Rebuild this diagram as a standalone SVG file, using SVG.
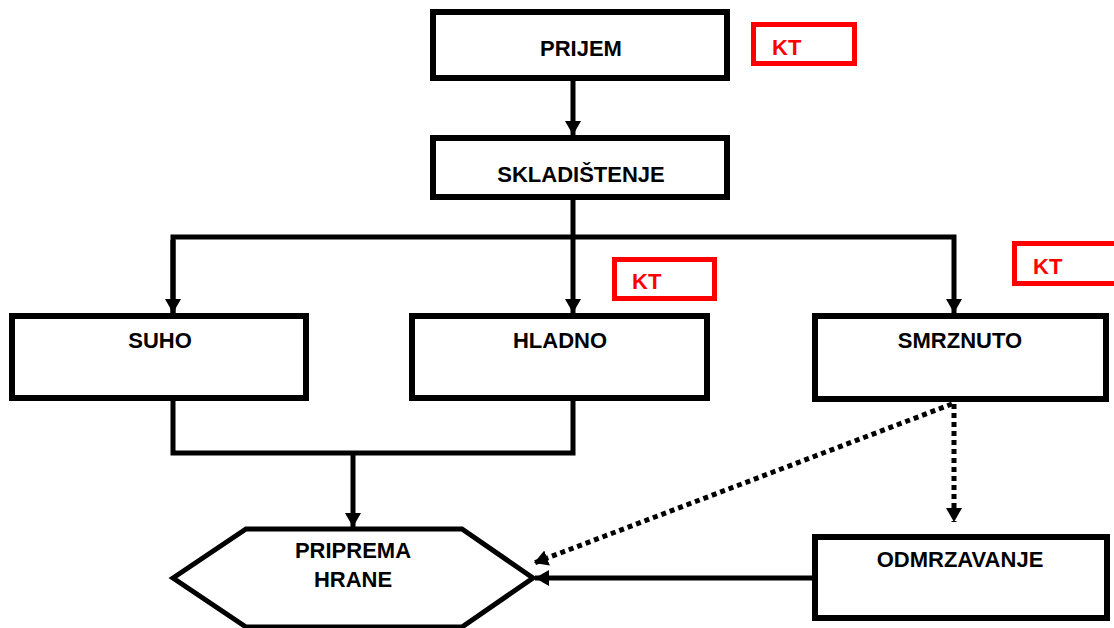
<svg xmlns="http://www.w3.org/2000/svg" width="1114" height="628" viewBox="0 0 1114 628">
<style>
.box{fill:#fff;stroke:#000;stroke-width:6}
.kt{fill:none;stroke:#ff0000;stroke-width:5}
.t{font-family:"Liberation Sans",Arial,sans-serif;font-weight:bold;font-size:22px;fill:#000;text-anchor:middle}
.kt-t{font-family:"Liberation Sans",Arial,sans-serif;font-weight:bold;font-size:22px;fill:#ff0000}
.c{fill:none;stroke:#000;stroke-width:5}
.d{fill:none;stroke:#000;stroke-width:5;stroke-dasharray:5 4}
</style>
<defs>
<marker id="ah" markerUnits="userSpaceOnUse" markerWidth="16" markerHeight="16" refX="14" refY="8" orient="auto">
<path d="M0,0 L14,8 L0,16 Z" fill="#000"/>
</marker>
</defs>
<rect width="1114" height="628" fill="#fff"/>
<g id="connectors">
<line class="c" x1="573" y1="81" x2="573" y2="135" marker-end="url(#ah)"/>
<line class="c" x1="573" y1="200" x2="573" y2="237"/>
<polyline class="c" points="173,313 173,237 954,237 954,313" marker-end="url(#ah)"/>
<line class="c" x1="173" y1="240" x2="173" y2="313" marker-end="url(#ah)"/>
<line class="c" x1="573" y1="237" x2="573" y2="313" marker-end="url(#ah)"/>
<polyline class="c" points="173,401 173,453 573,453 573,401"/>
<line class="c" x1="353" y1="453" x2="353" y2="527" marker-end="url(#ah)"/>
<line class="c" x1="812" y1="578" x2="535" y2="578" marker-end="url(#ah)"/>
<line class="d" x1="954" y1="404" x2="954" y2="522" marker-end="url(#ah)"/>
<line class="d" x1="952" y1="404" x2="534" y2="563" marker-end="url(#ah)"/>
</g>
<g id="prijem">
<rect class="box" x="433" y="12" width="294" height="66"/>
<text class="t" x="581" y="56">PRIJEM</text>
</g>
<g id="kt1">
<rect class="kt" x="753.5" y="24.5" width="101" height="39"/>
<text class="kt-t" x="772" y="55">KT</text>
</g>
<g id="skladistenje">
<rect class="box" x="433" y="138" width="294" height="59"/>
<text class="t" x="581" y="182">SKLADIŠTENJE</text>
</g>
<g id="kt2">
<rect class="kt" x="614.5" y="259.5" width="100" height="39"/>
<text class="kt-t" x="632" y="289">KT</text>
</g>
<g id="kt3">
<rect class="kt" x="1014.5" y="243.5" width="104" height="40"/>
<text class="kt-t" x="1033" y="274">KT</text>
</g>
<g id="suho">
<rect class="box" x="12" y="316" width="294" height="82"/>
<text class="t" x="160" y="348">SUHO</text>
</g>
<g id="hladno">
<rect class="box" x="412" y="316" width="295" height="82"/>
<text class="t" x="560" y="348">HLADNO</text>
</g>
<g id="smrznuto">
<rect class="box" x="815" y="316" width="291" height="83"/>
<text class="t" x="960" y="348">SMRZNUTO</text>
</g>
<g id="priprema-hrane">
<polygon points="173,578 246,529 462,529 533,578 462,627 246,627" fill="#fff" stroke="#000" stroke-width="5"/>
<text class="t" x="353" y="558">PRIPREMA</text>
<text class="t" x="353" y="587">HRANE</text>
</g>
<g id="odmrzavanje">
<rect class="box" x="815" y="537" width="292" height="81"/>
<text class="t" x="960" y="567">ODMRZAVANJE</text>
</g>
</svg>
